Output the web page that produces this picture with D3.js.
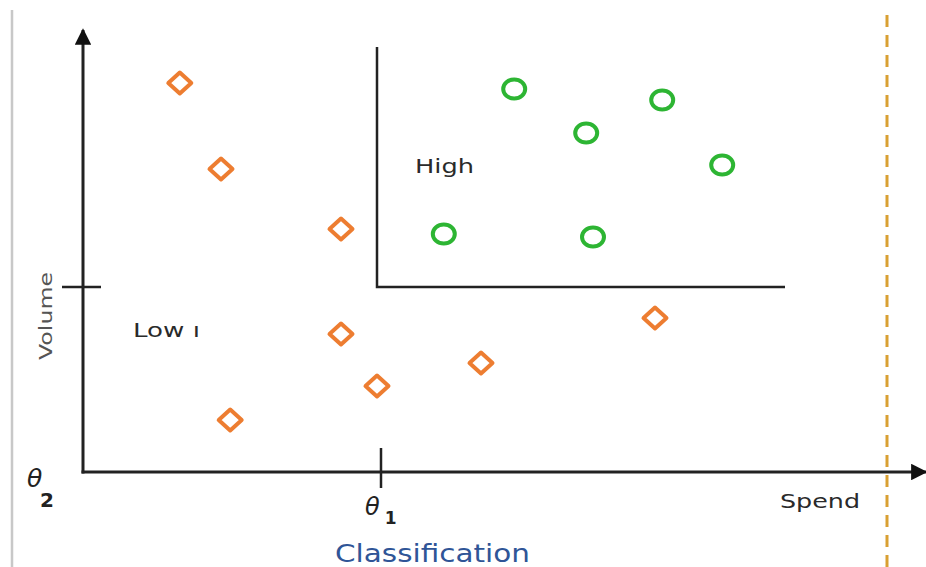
<!DOCTYPE html>
<html><head><meta charset="utf-8">
<script src="https://cdn.jsdelivr.net/npm/d3@7"></script>
<style>body{margin:0;background:#fff}svg{display:block}</style>
</head><body>
<svg id="c" width="926" height="567"></svg>
<script>
// Data (spend, volume) in chart units
const lowX = [12.1, 17.25, 32.25, 32.25, 36.75, 18.4, 49.75, 71.5];
const lowY = [97.25, 75.75, 60.75, 34.5, 21.5, 13, 27.25, 38.5];
const highX = [53.9, 62.9, 72.4, 79.9, 45.1, 63.75];
const highY = [95.75, 84.75, 93, 76.75, 59.5, 58.75];
const theta1 = 36.75;
const theta2 = 46.25;
const regionLabels = ["High", "Low ı"];
const axisLabels = ["Spend", "Volume", "Classification"];

const svg = d3.select("#c");
const x = d3.scaleLinear().domain([0, 100]).range([83, 883]);
const y = d3.scaleLinear().domain([0, 100]).range([472, 72]);
const orange = "#ED7D31", green = "#2DB533";

// left gray border line
svg.append("line").attr("x1",12).attr("x2",12).attr("y1",10).attr("y2",567)
  .attr("stroke","#c8c8c8").attr("stroke-width",2.5);
// dashed reference line
svg.append("line").attr("x1",887).attr("x2",887).attr("y1",15).attr("y2",567)
  .attr("stroke","#D9A032").attr("stroke-width",3).attr("stroke-dasharray","12 8");

const defs = svg.append("defs");
defs.append("marker").attr("id","arr").attr("viewBox","0 0 10 10").attr("refX",9).attr("refY",5)
  .attr("markerWidth",5.5).attr("markerHeight",5.5).attr("markerUnits","strokeWidth").attr("orient","auto")
  .append("path").attr("d","M0,0L10,5L0,10z").attr("fill","#111");

// axes
svg.append("line").attr("x1",x(0)).attr("x2",x(0)).attr("y1",y(0)+1.5).attr("y2",30)
  .attr("stroke","#222").attr("stroke-width",3).attr("marker-end","url(#arr)");
svg.append("line").attr("x1",x(0)-1.5).attr("x2",926).attr("y1",y(0)).attr("y2",y(0))
  .attr("stroke","#222").attr("stroke-width",3).attr("marker-end","url(#arr)");

// ticks
svg.append("line").attr("x1",62).attr("x2",101).attr("y1",y(theta2)).attr("y2",y(theta2))
  .attr("stroke","#222").attr("stroke-width",2.5);
svg.append("line").attr("x1",x(theta1)+4).attr("x2",x(theta1)+4).attr("y1",y(0)-24).attr("y2",y(0)+16)
  .attr("stroke","#222").attr("stroke-width",2.5);

// threshold L
svg.append("path")
  .attr("d", d3.line()([[x(theta1), y(106.25)], [x(theta1), y(theta2)], [x(87.75), y(theta2)]]))
  .attr("fill","none").attr("stroke","#222").attr("stroke-width",2.5);

// points
svg.selectAll(".lo").data(lowX.map((v,i)=>[v,lowY[i]])).join("path")
  .attr("d", d=>{const cx=x(d[0]), cy=y(d[1]); return `M${cx-11.5},${cy}L${cx},${cy-10.5}L${cx+11.5},${cy}L${cx},${cy+10.5}Z`;})
  .attr("fill","#fff").attr("stroke",orange).attr("stroke-width",4).attr("stroke-linejoin","round");
svg.selectAll(".hi").data(highX.map((v,i)=>[v,highY[i]])).join("ellipse")
  .attr("cx",d=>x(d[0])).attr("cy",d=>y(d[1])).attr("rx",11).attr("ry",9.5)
  .attr("fill","#fff").attr("stroke",green).attr("stroke-width",4);

const font = "DejaVu Sans, Verdana, sans-serif";
function label(tx, ty, str, size, len, color){
  return svg.append("text").attr("x",tx).attr("y",ty).text(str)
    .attr("font-family",font).attr("font-size",size).attr("fill",color)
    .attr("textLength",len).attr("lengthAdjust","spacingAndGlyphs");
}
label(415,173,regionLabels[0],20,59,"#2a2a2a");
label(133,337,regionLabels[1],19,67,"#2a2a2a");
label(780,508,axisLabels[0],20,80,"#2a2a2a");
label(335,562,axisLabels[2],24,195,"#2F5597");
svg.append("text").attr("transform","translate(52,360) rotate(-90)")
  .text(axisLabels[1]).attr("font-family",font).attr("font-size",18).attr("fill","#555")
  .attr("textLength",88).attr("lengthAdjust","spacingAndGlyphs");

// theta labels
const t1 = svg.append("text").attr("x",365).attr("y",515).attr("font-family",font).attr("fill","#222");
t1.append("tspan").attr("font-style","italic").attr("font-size",24).text("θ");
t1.append("tspan").attr("dx",5).attr("dy",9).attr("font-size",17).attr("font-weight","bold").text("1");
const t2 = svg.append("text").attr("x",27).attr("y",487).attr("font-family",font).attr("fill","#222");
t2.append("tspan").attr("font-style","italic").attr("font-size",25).text("θ");
t2.append("tspan").attr("x",40).attr("dy",20).attr("font-size",20).attr("font-weight","bold").text("2");
</script>
</body></html>
